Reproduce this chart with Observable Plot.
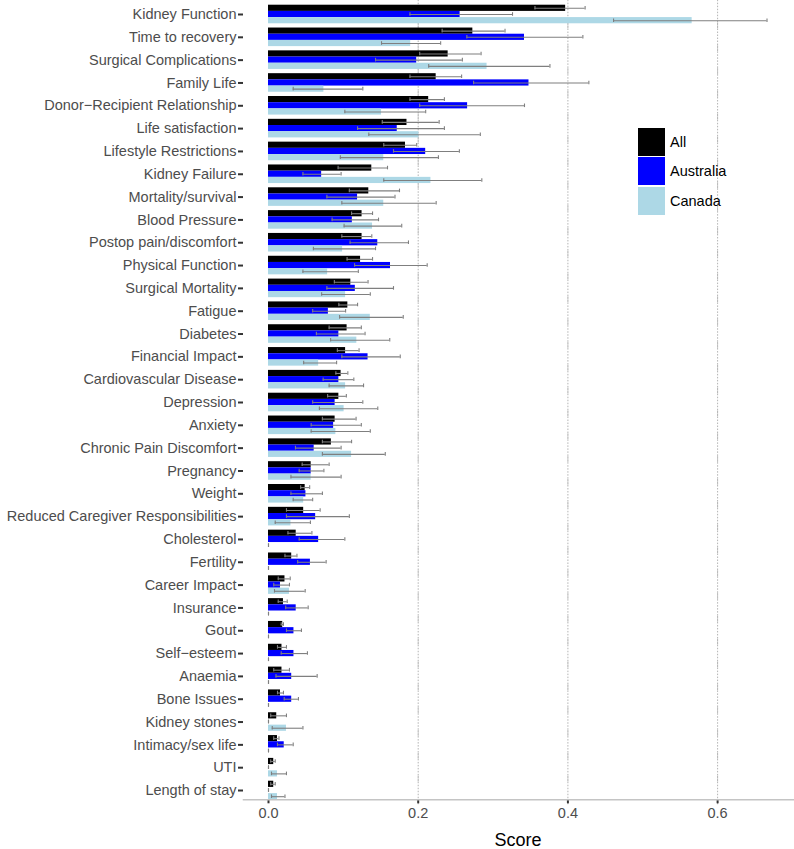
<!DOCTYPE html>
<html>
<head>
<meta charset="utf-8">
<script src="https://cdn.jsdelivr.net/npm/d3@7"></script>
<script src="https://cdn.jsdelivr.net/npm/@observablehq/plot@0.6"></script>
<style>
  html, body { margin: 0; padding: 0; background: #fff; }
  #wrap { position: relative; width: 794px; height: 849px; font-family: "Liberation Sans", Arial, sans-serif; }
  #legend { position: absolute; left: 638px; top: 127px; }
  .key { display: flex; align-items: center; height: 29.5px; }
  .sw { width: 27px; height: 28px; margin-right: 5px; }
  .lab { font-size: 14.5px; color: #000; }
</style>
</head>
<body>
<div id="wrap"><div id="chart"></div><div id="legend"></div></div>
<script>
const categories = ["Kidney Function","Time to recovery","Surgical Complications","Family Life","Donor−Recipient Relationship","Life satisfaction","Lifestyle Restrictions","Kidney Failure","Mortality/survival","Blood Pressure","Postop pain/discomfort","Physical Function","Surgical Mortality","Fatigue","Diabetes","Financial Impact","Cardiovascular Disease","Depression","Anxiety","Chronic Pain Discomfort","Pregnancy","Weight","Reduced Caregiver Responsibilities","Cholesterol","Fertility","Career Impact","Insurance","Gout","Self−esteem","Anaemia","Bone Issues","Kidney stones","Intimacy/sex life","UTI","Length of stay"];
const groups = ["All", "Australia", "Canada"];
const colors = ["#000000", "#0000ff", "#add8e6"];
const xTicks = [0, 0.2, 0.4, 0.6];
const gridTicks = [0.2, 0.4, 0.6];

const allVal = [0.397,0.273,0.240,0.224,0.214,0.185,0.183,0.138,0.134,0.125,0.125,0.123,0.110,0.106,0.105,0.103,0.097,0.094,0.089,0.084,0.057,0.049,0.047,0.037,0.031,0.022,0.020,0.019,0.018,0.018,0.016,0.011,0.012,0.007,0.007];
const allLo  = [0.356,0.232,0.202,0.189,0.189,0.152,0.154,0.093,0.108,0.111,0.098,0.105,0.088,0.094,0.081,0.092,0.090,0.079,0.072,0.072,0.045,0.043,0.024,0.026,0.022,0.013,0.013,0.017,0.012,0.007,0.012,0.003,0.007,0.003,0.003];
const allHi  = [0.423,0.316,0.284,0.258,0.235,0.228,0.198,0.159,0.175,0.139,0.138,0.139,0.133,0.119,0.124,0.121,0.106,0.104,0.117,0.111,0.081,0.055,0.069,0.058,0.038,0.029,0.025,0.020,0.024,0.028,0.020,0.024,0.014,0.009,0.009];

const ausVal = [0.256,0.342,0.198,0.348,0.266,0.172,0.210,0.071,0.119,0.112,0.146,0.163,0.116,0.080,0.094,0.133,0.094,0.089,0.087,0.061,0.057,0.050,0.063,0.067,0.056,0.016,0.037,0.034,0.034,0.031,0.031,0,0.021,0,0];
const ausLo  = [0.189,0.265,0.143,0.274,0.202,0.119,0.167,0.046,0.078,0.085,0.109,0.115,0.078,0.059,0.064,0.098,0.073,0.059,0.057,0.036,0.041,0.030,0.024,0.041,0.039,0.007,0.023,0.024,0.017,0.010,0.021,0,0.012,0,0];
const ausHi  = [0.326,0.420,0.259,0.428,0.342,0.235,0.255,0.097,0.169,0.147,0.187,0.212,0.167,0.103,0.129,0.176,0.114,0.126,0.124,0.097,0.074,0.072,0.108,0.102,0.077,0.028,0.053,0.044,0.052,0.065,0.040,0,0.033,0,0];

const canVal = [0.566,0.190,0.292,0.074,0.151,0.201,0.154,0.217,0.154,0.139,0.099,0.079,0.103,0.136,0.118,0.067,0.103,0.101,0.090,0.111,0.057,0.047,0.030,0,0,0.028,0,0,0,0,0,0.024,0,0.012,0.012];
const canLo  = [0.461,0.151,0.214,0.033,0.102,0.134,0.096,0.154,0.098,0.101,0.060,0.046,0.071,0.095,0.083,0.047,0.081,0.068,0.057,0.072,0.030,0.033,0.009,0,0,0.008,0,0,0,0,0,0.005,0,0.004,0.004];
const canHi  = [0.666,0.230,0.376,0.126,0.210,0.283,0.227,0.285,0.224,0.178,0.143,0.120,0.136,0.180,0.162,0.091,0.127,0.146,0.136,0.156,0.097,0.059,0.056,0,0,0.049,0,0,0,0,0,0.046,0,0.024,0.022];

const series = [
  {group: "All", val: allVal, lo: allLo, hi: allHi},
  {group: "Australia", val: ausVal, lo: ausLo, hi: ausHi},
  {group: "Canada", val: canVal, lo: canLo, hi: canHi}
];
const rows = [];
categories.forEach((c, i) => {
  series.forEach(s => rows.push({category: c, group: s.group, value: s.val[i], lo: s.lo[i], hi: s.hi[i]}));
});

const errColor = "#7f7f7f";
const chart = Plot.plot({
  width: 794,
  height: 849,
  marginLeft: 243,
  marginRight: 1,
  marginTop: 0,
  marginBottom: 45,
  style: {fontFamily: "'Liberation Sans', Arial, sans-serif", fontSize: "14.5px", color: "#4d4d4d", background: "#fff", overflow: "visible"},
  x: {domain: [-0.0334, 0.7014]},
  y: {domain: groups, padding: 0, round: false, axis: null},
  fy: {domain: categories, paddingInner: 0.186, paddingOuter: 0.206, round: false, axis: null},
  color: {domain: groups, range: colors},
  facet: {data: rows, y: "category"},
  marks: [
    Plot.ruleX(gridTicks, {stroke: "#b3b3b3", strokeDasharray: "1.5,1.5", strokeWidth: 1, insetTop: -5, insetBottom: -5}),
    Plot.barX(rows, {y: "group", x1: 0, x2: "value", fill: "group"}),
    Plot.ruleY(rows, {y: "group", x1: "lo", x2: "hi", stroke: errColor, strokeWidth: 1.1}),
    Plot.tickX(rows, {y: "group", x: "lo", stroke: errColor, strokeWidth: 1.1, insetTop: 1.3, insetBottom: 1.3}),
    Plot.tickX(rows, {y: "group", x: "hi", stroke: errColor, strokeWidth: 1.1, insetTop: 1.3, insetBottom: 1.3}),
    Plot.axisFy({anchor: "left", tickSize: 5, tickPadding: 2, strokeWidth: 2, stroke: "#333", fill: "#4d4d4d", fontSize: 14.5, label: null}),
    Plot.axisX({anchor: "bottom", ticks: xTicks, tickFormat: d3.format(".1f"), tickSize: 4, tickPadding: 4, strokeWidth: 2, stroke: "#333", fill: "#4d4d4d", fontSize: 14.5, label: null}),
    Plot.frame({anchor: "bottom", facet: "super", stroke: "#c4c4c4", strokeWidth: 1.5})
  ]
});
document.getElementById("chart").appendChild(chart);

// axis title
const svg = d3.select(chart);
svg.append("text")
  .attr("x", (243 + 793) / 2)
  .attr("y", 846)
  .attr("text-anchor", "middle")
  .attr("font-size", 18)
  .attr("fill", "#000")
  .text("Score");

const legend = document.getElementById("legend");
groups.forEach((g, i) => {
  const k = document.createElement("div");
  k.className = "key";
  k.innerHTML = `<div class="sw" style="background:${colors[i]}"></div><span class="lab">${g}</span>`;
  legend.appendChild(k);
});
</script>
</body>
</html>
